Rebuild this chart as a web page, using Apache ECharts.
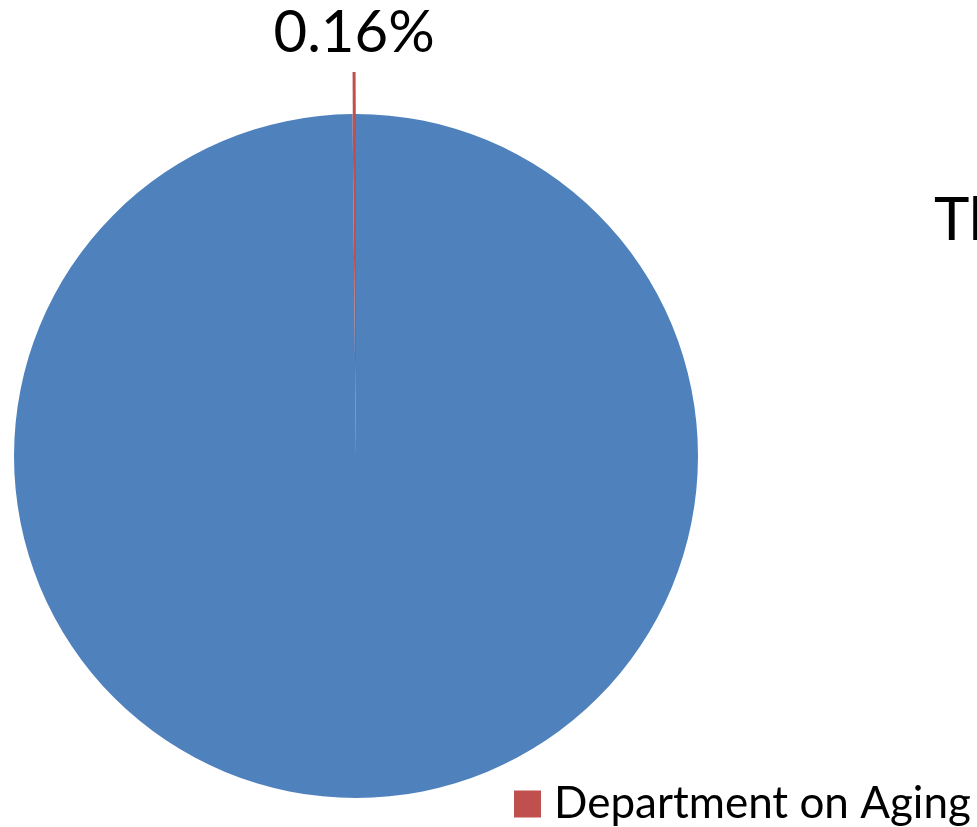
<!DOCTYPE html>
<html>
<head>
<meta charset="utf-8">
<script src="https://cdn.jsdelivr.net/npm/echarts@6/dist/echarts.min.js"></script>
<style>
html,body{margin:0;padding:0;background:#fff;}
#chart{width:977px;height:827px;}
</style>
</head>
<body>
<div id="chart"></div>
<script>
var categories = ['Other', 'Department on Aging'];
var values = [99.84, 0.16];
var colors = ['#4F81BD', '#C0504D'];
var titleText = 'Th';

var chart = echarts.init(document.getElementById('chart'));
var FONT = 'Lato, "Open Sans", sans-serif';
chart.setOption({
  animation: false,
  title: {
    text: titleText,
    left: 929, top: 186,
    textStyle: {fontFamily: FONT, fontSize: 60, fontWeight: 'normal', color: '#000'}
  },
  legend: {
    data: ['Department on Aging'],
    left: 509, top: 777,
    icon: 'rect',
    itemWidth: 27, itemHeight: 27, itemGap: 14,
    textStyle: {fontFamily: FONT, fontSize: 44, color: '#000', padding: [0, 0, 0, 8]}
  },
  series: [{
    type: 'pie',
    center: [356, 456],
    radius: [0, 342],
    startAngle: 90,
    clockwise: true,
    data: categories.map(function(c, i){
      return {
        name: c, value: values[i],
        itemStyle: {color: colors[i]},
        label: {show: i === 1},
        labelLine: {show: i === 1, lineStyle: {color: colors[i], width: 3}}
      };
    }),
    label: {
      formatter: function(p){ return p.value.toFixed(2) + '%'; },
      fontFamily: FONT, fontSize: 58, color: '#000'
    },
    labelLine: {length: 42, length2: 0, smooth: false},
    labelLayout: function(params){
      var pts = params.labelLinePoints;
      if (!pts) return {};
      var first = pts[0];
      var last = pts[pts.length - 1];
      return {
        x: last[0], y: last[1] - 10, align: 'center', verticalAlign: 'bottom',
        labelLinePoints: [[first[0], first[1]], [last[0], last[1]], [last[0], last[1]]]
      };
    }
  }]
});
</script>
</body>
</html>
